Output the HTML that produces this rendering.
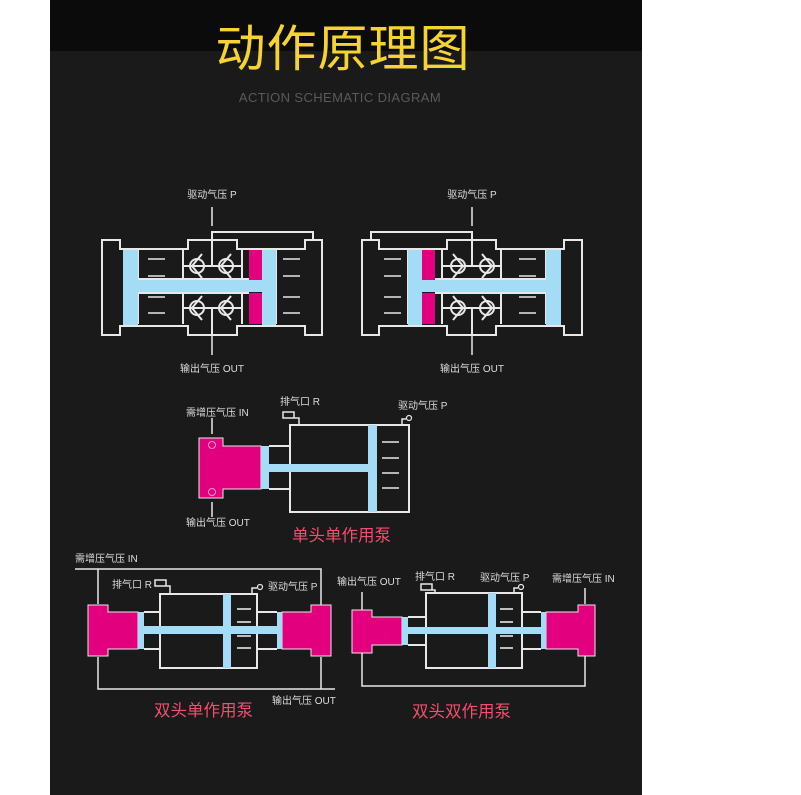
<!DOCTYPE html>
<html><head><meta charset="utf-8"><style>
html,body{margin:0;padding:0;background:#fff;}
svg{display:block}
text{font-family:"Liberation Sans","Noto Sans CJK SC",sans-serif;}
</style></head><body>
<svg width="801" height="795" viewBox="0 0 801 795" xmlns="http://www.w3.org/2000/svg">
<rect x="50" y="0" width="592" height="795" fill="#1a1a1a"/>
<rect x="50" y="0" width="592" height="51" fill="#0b0b0b"/>
<text x="343" y="66" font-size="50" fill="#f5d432" text-anchor="middle" font-family="Noto Sans CJK SC,sans-serif" letter-spacing="1">动作原理图</text>
<text x="340" y="102" font-size="13" fill="#5a5a5a" text-anchor="middle" letter-spacing="0.4">ACTION SCHEMATIC DIAGRAM</text>

<defs>
<g id="pump">
  <g fill="none" stroke="#e8e8e8" stroke-width="2">
    <path d="M102 240 H120 V249 H188 V240 H237 V249 H305 V240 H322 V335 H305 V326 H237 V335 H188 V326 H120 V335 H102 Z"/>
    <path d="M212 240 V232 H313 V240"/>
    <line x1="138" y1="250" x2="138" y2="324"/>
    <line x1="183" y1="250" x2="183" y2="324"/>
    <line x1="242" y1="250" x2="242" y2="324"/>
    <line x1="276" y1="250" x2="276" y2="324"/>
    <line x1="138" y1="279" x2="249" y2="279"/>
    <line x1="138" y1="293" x2="249" y2="293"/>
    <line x1="183" y1="266" x2="242" y2="266"/>
    <line x1="183" y1="308" x2="242" y2="308"/>
    <line x1="212" y1="240" x2="212" y2="266"/>
    <line x1="212" y1="308" x2="212" y2="335"/>
    <circle cx="197" cy="266" r="7"/>
    <circle cx="226" cy="266" r="7"/>
    <circle cx="197" cy="308" r="7"/>
    <circle cx="226" cy="308" r="7"/>
    <path d="M202 254 L192 266 L202 278"/>
    <path d="M231 254 L221 266 L231 278"/>
    <path d="M202 296 L192 308 L202 320"/>
    <path d="M231 296 L221 308 L231 320"/>
    <g stroke-width="1.6">
      <line x1="148" y1="259" x2="165" y2="259"/><line x1="148" y1="276" x2="165" y2="276"/>
      <line x1="148" y1="297" x2="165" y2="297"/><line x1="148" y1="313" x2="165" y2="313"/>
      <line x1="283" y1="259" x2="300" y2="259"/><line x1="283" y1="276" x2="300" y2="276"/>
      <line x1="283" y1="297" x2="300" y2="297"/><line x1="283" y1="313" x2="300" y2="313"/>
    </g>
  </g>
  <rect x="123" y="250" width="15" height="75" fill="#a5dcf5"/>
  <rect x="262" y="250" width="14" height="75" fill="#a5dcf5"/>
  <rect x="123" y="280" width="153" height="12" fill="#a5dcf5"/>
  <rect x="249" y="250" width="13" height="30" fill="#e2007f"/>
  <rect x="249" y="293" width="13" height="31" fill="#e2007f"/>
  <g stroke="#e8e8e8" stroke-width="1.5">
    <line x1="212" y1="207" x2="212" y2="226"/>
    <line x1="212" y1="336" x2="212" y2="355"/>
  </g>
</g>
</defs>
<use href="#pump"/>
<use href="#pump" transform="translate(684,0) scale(-1,1)"/>
<g font-size="10" fill="#ddd" text-anchor="middle">
<text x="212" y="198">驱动气压 P</text>
<text x="212" y="372">输出气压 OUT</text>
<text x="472" y="198">驱动气压 P</text>
<text x="472" y="372">输出气压 OUT</text>
</g>

<g fill="none" stroke="#e8e8e8" stroke-width="2">
  <rect x="290" y="425" width="119" height="87"/>
  <line x1="269" y1="446" x2="290" y2="446"/>
  <line x1="269" y1="489" x2="290" y2="489"/>
  <path d="M283 412 H294 V418 H283 Z M294 418 H299 V425" stroke-width="1.5"/>
  <path d="M402 425 V419 H406" stroke-width="1.5"/>
  <circle cx="409" cy="418" r="2.5" stroke-width="1.2"/>
  <g stroke-width="1.6">
  <line x1="382" y1="442" x2="399" y2="442"/><line x1="382" y1="458" x2="399" y2="458"/>
  <line x1="382" y1="473" x2="399" y2="473"/><line x1="382" y1="488" x2="399" y2="488"/>
  </g>
  <line x1="212" y1="418" x2="212" y2="434" stroke-width="1.5"/>
  <line x1="212" y1="502" x2="212" y2="517" stroke-width="1.5"/>
</g>
<path d="M199 438 H223 V446 H261 V489 H223 V498 H199 Z" fill="#e2007f" stroke="#e8e8e8" stroke-width="1"/>
<circle cx="212" cy="445" r="3.5" fill="none" stroke="#f59ac8" stroke-width="1"/>
<circle cx="212" cy="492" r="3.5" fill="none" stroke="#f59ac8" stroke-width="1"/>
<rect x="261" y="446" width="8" height="43" fill="#a5dcf5"/>
<rect x="269" y="464" width="100" height="8" fill="#a5dcf5"/>
<rect x="368" y="425" width="9" height="87" fill="#a5dcf5"/>
<g font-size="10" fill="#ddd">
<text x="186" y="416">需增压气压 IN</text>
<text x="280" y="405">排气口 R</text>
<text x="398" y="409">驱动气压 P</text>
<text x="186" y="526">输出气压 OUT</text>
</g>
<text x="292" y="541" font-size="16.5" fill="#f0506e" font-family="Noto Sans CJK SC,sans-serif">单头单作用泵</text>

<g fill="none" stroke="#e8e8e8" stroke-width="2">
  <rect x="160" y="594" width="97" height="74"/>
  <line x1="144" y1="612" x2="160" y2="612"/><line x1="144" y1="649" x2="160" y2="649"/>
  <line x1="257" y1="612" x2="277" y2="612"/><line x1="257" y1="649" x2="277" y2="649"/>
  <path d="M75 569 H321 V605" stroke-width="1.5"/>
  <line x1="98" y1="569" x2="98" y2="604" stroke-width="1.5"/>
  <path d="M98 657 V689 H335" stroke-width="1.5"/>
  <line x1="321" y1="657" x2="321" y2="689" stroke-width="1.5"/>
  <path d="M155 580 H166 V586 H155 Z M166 586 H170 V594" stroke-width="1.5"/>
  <path d="M252 594 V588 H257" stroke-width="1.5"/>
  <circle cx="260" cy="587" r="2.5" stroke-width="1.2"/>
  <g stroke-width="1.6">
  <line x1="237" y1="609" x2="251" y2="609"/><line x1="237" y1="622" x2="251" y2="622"/>
  <line x1="237" y1="636" x2="251" y2="636"/><line x1="237" y1="648" x2="251" y2="648"/>
  </g>
</g>
<path d="M88 605 H108 V612 H138 V649 H108 V656 H88 Z" fill="#e2007f" stroke="#e8e8e8" stroke-width="1"/>
<path d="M331 605 H311 V612 H282 V649 H311 V656 H331 Z" fill="#e2007f" stroke="#e8e8e8" stroke-width="1"/>
<rect x="138" y="612" width="6" height="37" fill="#a5dcf5"/>
<rect x="277" y="612" width="5" height="37" fill="#a5dcf5"/>
<rect x="144" y="626" width="133" height="8" fill="#a5dcf5"/>
<rect x="223" y="594" width="8" height="74" fill="#a5dcf5"/>
<g font-size="10" fill="#ddd">
<text x="75" y="562">需增压气压 IN</text>
<text x="112" y="588">排气口 R</text>
<text x="268" y="590">驱动气压 P</text>
<text x="272" y="704">输出气压 OUT</text>
</g>
<text x="154" y="716" font-size="16.5" fill="#f0506e" font-family="Noto Sans CJK SC,sans-serif">双头单作用泵</text>

<g fill="none" stroke="#e8e8e8" stroke-width="2">
  <rect x="426" y="593" width="96" height="75"/>
  <line x1="408" y1="617" x2="426" y2="617"/><line x1="408" y1="645" x2="426" y2="645"/>
  <line x1="522" y1="612" x2="541" y2="612"/><line x1="522" y1="649" x2="541" y2="649"/>
  <line x1="362" y1="592" x2="362" y2="610" stroke-width="1.5"/>
  <line x1="585" y1="588" x2="585" y2="604" stroke-width="1.5"/>
  <path d="M362 653 V686 H585 V656" stroke-width="1.5"/>
  <path d="M421 584 H432 V590 H421 Z M432 590 H435 V593" stroke-width="1.5"/>
  <path d="M514 593 V588 H518" stroke-width="1.5"/>
  <circle cx="521" cy="587" r="2.5" stroke-width="1.2"/>
  <g stroke-width="1.6">
  <line x1="500" y1="609" x2="513" y2="609"/><line x1="500" y1="622" x2="513" y2="622"/>
  <line x1="500" y1="636" x2="513" y2="636"/><line x1="500" y1="648" x2="513" y2="648"/>
  </g>
</g>
<path d="M352 610 H372 V617 H402 V645 H372 V653 H352 Z" fill="#e2007f" stroke="#e8e8e8" stroke-width="1"/>
<path d="M595 605 H578 V612 H546 V649 H578 V656 H595 Z" fill="#e2007f" stroke="#e8e8e8" stroke-width="1"/>
<rect x="402" y="617" width="6" height="28" fill="#a5dcf5"/>
<rect x="541" y="612" width="5" height="37" fill="#a5dcf5"/>
<rect x="408" y="627" width="133" height="7" fill="#a5dcf5"/>
<rect x="488" y="593" width="8" height="75" fill="#a5dcf5"/>
<g font-size="10" fill="#ddd">
<text x="337" y="585">输出气压 OUT</text>
<text x="415" y="580">排气口 R</text>
<text x="480" y="581">驱动气压 P</text>
<text x="552" y="582">需增压气压 IN</text>
</g>
<text x="412" y="717" font-size="16.5" fill="#f0506e" font-family="Noto Sans CJK SC,sans-serif">双头双作用泵</text>
</svg>
</body></html>
